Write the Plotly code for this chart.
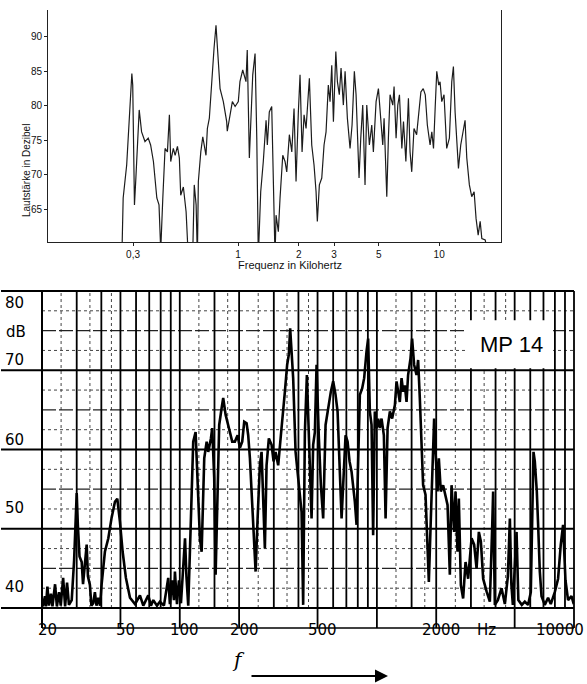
import math
import plotly.graph_objects as go

W, H = 587, 684

# ---------------- data: upper chart (kHz, dB) ----------------
top_freq_khz = [
    0.264, 0.268, 0.279, 0.287, 0.296, 0.299, 0.303, 0.305, 0.310, 0.316,
    0.322, 0.331, 0.344, 0.357, 0.367, 0.379, 0.394, 0.404, 0.412, 0.422,
    0.433, 0.445, 0.455, 0.462, 0.476, 0.486, 0.499, 0.510, 0.518, 0.534,
    0.551, 0.565, 0.594, 0.605, 0.618, 0.627, 0.634, 0.652, 0.667, 0.692,
    0.703, 0.719, 0.739, 0.759, 0.776, 0.789, 0.813, 0.844, 0.877, 0.883,
    0.912, 0.936, 0.966, 1.002, 1.021, 1.054, 1.094, 1.110, 1.137, 1.182,
    1.214, 1.238, 1.260, 1.295, 1.334, 1.377, 1.397, 1.429, 1.469, 1.497,
    1.526, 1.544, 1.585, 1.616, 1.667, 1.711, 1.745, 1.798, 1.849, 1.897,
    1.941, 1.993, 2.032, 2.080, 2.128, 2.177, 2.219, 2.261, 2.323, 2.385,
    2.441, 2.477, 2.535, 2.606, 2.675, 2.737, 2.809, 2.865, 2.922, 2.978,
    3.061, 3.117, 3.186, 3.250, 3.337, 3.404, 3.494, 3.603, 3.687, 3.785,
    3.860, 3.918, 3.994, 4.073, 4.166, 4.278, 4.363, 4.496, 4.620, 4.706,
    4.855, 4.986, 5.084, 5.240, 5.321, 5.487, 5.590, 5.697, 5.878, 5.966,
    6.105, 6.225, 6.344, 6.521, 6.645, 6.829, 7.031, 7.164, 7.303, 7.495,
    7.724, 7.926, 8.110, 8.330, 8.528, 8.732, 9.012, 9.191, 9.371, 9.549,
    9.727, 9.950, 10.10, 10.30, 10.57, 10.90, 11.24, 11.55, 11.77, 12.00,
    12.32, 12.47, 12.80, 13.19, 13.45, 13.72, 14.13, 14.52, 14.92, 15.26,
    15.63, 15.99, 16.30, 16.94, 17.58,
]
top_db = [
    58.0, 66.6, 71.4, 77.7, 84.7, 83.0, 73.3, 65.6, 69.5, 73.9,
    79.4, 76.2, 74.8, 75.3, 74.3, 71.9, 66.6, 65.6, 59.0, 66.6,
    73.8, 73.3, 78.7, 71.9, 73.8, 72.8, 74.1, 72.4, 67.0, 68.2,
    64.6, 58.0, 58.0, 68.5, 65.6, 58.0, 69.0, 73.3, 75.5, 72.8,
    76.7, 78.2, 84.0, 88.4, 91.7, 88.1, 82.5, 80.6, 77.7, 76.3,
    79.1, 80.6, 79.9, 80.6, 83.5, 85.2, 83.5, 88.1, 72.4, 84.5,
    87.6, 75.3, 58.0, 67.5, 71.9, 77.9, 74.3, 79.1, 79.9, 69.5,
    58.0, 64.1, 61.7, 66.6, 72.8, 71.9, 70.4, 75.8, 73.3, 79.6,
    69.0, 79.1, 84.5, 73.3, 78.7, 76.7, 79.9, 84.0, 74.3, 71.4,
    67.5, 63.2, 68.5, 69.5, 74.3, 76.2, 83.0, 80.6, 85.9, 77.7,
    87.9, 83.5, 81.6, 85.5, 80.1, 85.0, 78.2, 73.8, 77.2, 85.0,
    81.6, 77.2, 69.5, 75.3, 80.1, 68.5, 80.1, 74.3, 77.2, 73.3,
    80.6, 82.5, 78.7, 74.3, 78.2, 66.8, 75.3, 81.6, 80.1, 82.8,
    75.3, 80.1, 81.6, 73.8, 77.7, 71.9, 81.1, 73.3, 70.4, 76.7,
    75.8, 78.7, 82.0, 82.5, 81.6, 77.2, 74.3, 76.2, 73.8, 79.6,
    85.0, 83.0, 83.5, 80.6, 81.6, 73.8, 75.3, 83.5, 85.7, 79.1,
    73.3, 70.9, 74.3, 76.2, 77.9, 72.4, 68.5, 66.8, 67.5, 63.6,
    61.2, 63.2, 60.7, 60.5, 58.0,
]
top_xticks = [0.3, 1, 2, 3, 5, 10]
top_xticklabels = ["0,3", "1", "2", "3", "5", "10"]
top_yticks = [65, 70, 75, 80, 85, 90]

# ---------------- data: lower chart (Hz, dB) ----------------
bot_freq_hz = [
    20.2, 20.7, 20.95, 21.3, 21.7, 22.2, 22.6, 23.3, 23.8, 24.4,
    24.9, 25.6, 26.2, 26.8, 27.4, 28.3, 29.1, 29.6, 30.0, 30.4,
    31.0, 31.8, 32.3, 33.0, 33.7, 34.2, 35.0, 35.6, 36.4, 37.1,
    37.8, 38.6, 39.4, 40.1, 41.7, 43.4, 45.1, 46.9, 48.2, 49.7,
    51.3, 53.3, 55.9, 59.3, 62.8, 65.3, 69.2, 71.4, 73.4, 76.6,
    79.3, 83.1, 87.4, 89.1, 91.3, 93.4, 94.5, 96.8, 99.0, 101.4,
    103.8, 106.3, 108.1, 110.4, 113.9, 117.0, 120.3, 123.2, 126.5, 129.1,
    133.1, 136.9, 139.4, 143.9, 146.1, 149.5, 152.0, 155.6, 158.5, 163.0,
    166.1, 170.8, 174.8, 179.6, 184.5, 190.4, 196.5, 201.9, 207.4, 212.3,
    218.3, 222.4, 226.9, 231.4, 235.8, 242.5, 248.2, 254.9, 260.0, 264.9,
    270.2, 275.6, 283.1, 292.2, 299.2, 306.2, 315.7, 325.8, 334.6, 341.4,
    350.6, 357.6, 363.1, 369.1, 376.1, 386.8, 395.9, 406.7, 414.9, 422.7,
    431.2, 441.4, 448.1, 457.1, 466.2, 475.0, 484.6, 494.3, 503.6, 507.8,
    519.8, 534.0, 549.1, 566.1, 584.2, 600.1, 617.1, 631.7, 649.0, 662.0,
    674.4, 693.5, 709.9, 726.7, 743.9, 757.9, 773.1, 788.6, 803.5, 819.6,
    841.8, 861.8, 886.3, 903.0, 921.1, 939.6, 957.2, 976.4, 995.9, 1015,
    1035, 1056, 1085, 1107, 1133, 1164, 1195, 1234, 1258, 1282,
    1307, 1334, 1359, 1386, 1414, 1440, 1481, 1509, 1545, 1589,
    1619, 1651, 1684, 1716, 1765, 1807, 1835, 1878, 1907, 1952,
    1984, 2031, 2062, 2110, 2168, 2256, 2283, 2345, 2392, 2466,
    2506, 2565, 2605, 2667, 2739, 2817, 2904, 3022, 3115, 3204,
    3291, 3369, 3460, 3601, 3742, 3844, 3889, 3935, 3967, 4108,
    4290, 4459, 4618, 4728, 4811, 4896, 5112, 5220, 5435, 5629,
    5850, 6038, 6130, 6231, 6327, 6476, 6576, 6708, 6843, 7108,
    7387, 7624, 7989, 8303, 8568, 8802, 9052, 9331, 9709, 9975,
]
bot_db = [
    40.2, 41.5, 40.2, 42.7, 40.3, 41.8, 40.2, 43.0, 40.2, 42.0,
    40.3, 43.8, 40.2, 43.2, 40.4, 41.0, 46.0, 51.0, 54.5, 50.5,
    46.5, 45.8, 43.0, 45.5, 48.0, 44.0, 42.9, 40.3, 40.6, 42.0,
    40.3, 41.3, 40.3, 42.9, 47.1, 48.8, 51.4, 53.4, 53.8, 50.9,
    47.1, 43.8, 41.3, 40.5, 41.6, 40.3, 41.6, 40.3, 41.0, 40.3,
    40.8, 40.3, 43.8, 40.5, 43.5, 41.0, 44.6, 40.5, 43.5, 40.6,
    44.5, 48.8, 44.0, 40.3, 51.3, 61.0, 62.2, 55.5, 48.8, 47.1,
    58.9, 61.0, 59.7, 61.4, 62.7, 56.4, 44.2, 54.7, 63.1, 65.2,
    66.5, 64.4, 63.5, 62.2, 61.0, 61.0, 61.8, 60.2, 61.0, 63.5,
    63.3, 61.8, 58.9, 54.7, 51.3, 44.6, 51.3, 58.0, 59.7, 53.8,
    47.5, 58.0, 61.4, 60.6, 58.5, 59.7, 58.0, 61.8, 65.6, 67.3,
    70.7, 72.0, 75.3, 72.4, 69.0, 59.7, 57.2, 54.7, 52.1, 40.4,
    62.2, 69.4, 63.9, 58.9, 51.3, 60.6, 62.2, 70.7, 62.7, 61.4,
    55.5, 51.3, 63.1, 65.2, 67.3, 68.6, 66.9, 64.8, 55.5, 51.3,
    55.5, 61.8, 61.0, 58.5, 57.2, 55.5, 53.4, 50.5, 58.5, 66.9,
    67.7, 69.0, 72.4, 74.0, 64.8, 63.1, 49.2, 64.8, 62.7, 63.9,
    62.7, 63.9, 61.8, 51.3, 62.7, 64.8, 63.9, 65.6, 68.6, 67.3,
    66.0, 69.0, 67.3, 68.1, 66.0, 69.4, 71.5, 74.0, 70.7, 69.4,
    71.3, 66.5, 60.6, 55.5, 54.3, 48.0, 43.3, 51.3, 55.5, 63.9,
    59.7, 54.7, 58.9, 54.7, 55.5, 53.4, 53.0, 44.2, 55.5, 49.6,
    54.7, 47.1, 53.8, 42.9, 41.2, 45.8, 43.7, 48.8, 48.0, 45.0,
    49.6, 48.4, 43.7, 42.1, 40.8, 50.1, 54.7, 46.0, 40.4, 41.0,
    42.5, 40.5, 44.0, 51.3, 43.0, 40.4, 49.6, 41.0, 40.4, 40.8,
    40.4, 42.0, 51.3, 59.7, 58.5, 54.7, 50.5, 44.6, 41.5, 40.4,
    41.3, 40.5, 42.0, 43.7, 48.0, 50.5, 43.5, 41.0, 41.5, 40.5,
]
bot_label_vals = [20, 50, 100, 200, 500, 2000]
bot_label_text = ["20", "50", "100", "200", "500", "2000"]
bot_last_label = "10000"
bot_label_tickmarks = [50, 100, 200, 500, 1000, 2000, 5000]
bot_y_levels = [80, 70, 60, 50, 40]
grid_major_v = [30, 40, 50, 60, 70, 80, 90, 100, 150, 200, 300, 400, 500, 600, 700,
                800, 900, 1000, 1500, 2000, 3000, 4000, 5000, 6000, 7000, 8000, 9000]
grid_minor_v = [25, 35, 45, 125, 175, 250, 350, 450, 1250, 1750, 2500, 3500, 4500]
grid_major_h = [50, 60, 70]
grid_mid_h = [45, 55, 65, 75]
grid_dot_h = [42.5, 47.5, 52.5, 57.5, 62.5, 67.5, 72.5, 77.5]

# ---------------- geometry ----------------
B_LEFT, B_RIGHT = 42, 574          # px of lower plot area
B_TOP, B_BOT = 291, 628            # px
B_YMIN, B_YMAX = 37.48, 80.0


def px(x):
    return x / W


def py(y):
    return 1 - y / H


def db_to_paper(v):
    frac = (v - B_YMIN) / (B_YMAX - B_YMIN)
    return py(B_BOT) + frac * (py(B_TOP) - py(B_BOT))


fig = go.Figure()
fig.add_trace(go.Scatter(x=top_freq_khz, y=top_db, xaxis="x", yaxis="y", mode="lines",
                         line=dict(color="#1c1c1c", width=1.2), showlegend=False,
                         hoverinfo="skip"))
fig.add_trace(go.Scatter(x=bot_freq_hz, y=bot_db, xaxis="x2", yaxis="y2", mode="lines",
                         line=dict(color="black", width=2.6), showlegend=False,
                         hoverinfo="skip"))

shapes = []
black = "black"
# dotted minor grid
for f in grid_minor_v:
    shapes.append(dict(type="line", xref="x2", yref="y2", x0=f, x1=f, y0=40, y1=80,
                       line=dict(color="#444", width=1, dash="dot"), layer="below"))
for v in grid_dot_h:
    shapes.append(dict(type="line", xref="x2", yref="y2", x0=20, x1=10000, y0=v, y1=v,
                       line=dict(color="#444", width=1, dash="dot"), layer="below"))
for v in grid_mid_h:
    shapes.append(dict(type="line", xref="x2", yref="y2", x0=20, x1=10000, y0=v, y1=v,
                       line=dict(color="#222", width=1.4, dash="14px,3px"), layer="below"))
for f in grid_major_v:
    shapes.append(dict(type="line", xref="x2", yref="y2", x0=f, x1=f, y0=40, y1=80,
                       line=dict(color=black, width=1.8), layer="below"))
for v in grid_major_h + [40, 80]:
    yy = db_to_paper(v)
    shapes.append(dict(type="line", xref="paper", yref="paper", x0=px(1), x1=px(B_RIGHT),
                       y0=yy, y1=yy, line=dict(color=black, width=2)))
# frame of the lower chart
shapes.append(dict(type="line", xref="paper", yref="paper", x0=px(B_LEFT), x1=px(B_LEFT),
                   y0=py(B_BOT), y1=py(B_TOP), line=dict(color=black, width=2)))
shapes.append(dict(type="line", xref="paper", yref="paper", x0=px(B_RIGHT), x1=px(B_RIGHT),
                   y0=py(B_BOT), y1=py(B_TOP), line=dict(color=black, width=1.8)))
shapes.append(dict(type="line", xref="paper", yref="paper", x0=px(B_LEFT), x1=px(B_RIGHT),
                   y0=py(B_BOT), y1=py(B_BOT), line=dict(color=black, width=1.6)))
for f in bot_label_tickmarks:
    shapes.append(dict(type="line", xref="x2", yref="y2", x0=f, x1=f, y0=B_YMIN, y1=40,
                       line=dict(color=black, width=1.8)))
# white label box
shapes.append(dict(type="rect", xref="x2", yref="y2", x0=2800, x1=7830, y0=70.25, y1=76.3,
                   fillcolor="white", line=dict(width=0)))

annotations = []
# upper chart titles
annotations.append(dict(text="Lautstärke in Dezibel", xref="paper", yref="paper",
                        x=px(19), y=py(122), textangle=-90, showarrow=False,
                        font=dict(family="Liberation Sans, Arial", size=10, color="#111")))
annotations.append(dict(text="Frequenz in Kilohertz", xref="paper", yref="paper",
                        x=px(290), y=py(265), showarrow=False,
                        font=dict(family="Liberation Sans, Arial", size=11, color="#111")))
# lower chart y labels
lab_font = dict(family="DejaVu Sans", size=15, color="black")
annotations.append(dict(text="80", xref="paper", yref="paper", x=px(3), y=py(303),
                        xanchor="left", showarrow=False, font=lab_font))
annotations.append(dict(text="dB", xref="paper", yref="paper", x=px(4), y=py(332),
                        xanchor="left", showarrow=False, font=lab_font))
for v in bot_y_levels[1:]:
    annotations.append(dict(text=str(v), xref="paper", yref="paper", x=px(3),
                            y=db_to_paper(v), yshift=10, xanchor="left",
                            showarrow=False, font=lab_font))
# lower chart x labels
for val, txt in zip(bot_label_vals, bot_label_text):
    annotations.append(dict(text=txt, xref="x2", yref="paper", x=math.log10(val),
                            y=py(641), xshift=5, showarrow=False, font=lab_font))
annotations.append(dict(text=bot_last_label, xref="paper", yref="paper", x=px(586),
                        y=py(641), xanchor="right", showarrow=False, font=lab_font))
annotations.append(dict(text="Hz", xref="paper", yref="paper", x=px(498), y=py(641),
                        showarrow=False, font=lab_font))
annotations.append(dict(text="MP 14", xref="x2", yref="y2", x=math.log10(4830), y=73.2,
                        showarrow=False,
                        font=dict(family="Liberation Sans, Arial", size=22, color="black")))
# f arrow
annotations.append(dict(text="<i>f</i>", xref="paper", yref="paper", x=px(238), y=py(674),
                        showarrow=False,
                        font=dict(family="DejaVu Serif", size=20, color="black")))
annotations.append(dict(text="", xref="paper", yref="paper", x=px(388), y=py(676),
                        ax=-138, ay=0, showarrow=True, arrowhead=2, arrowsize=1.3,
                        arrowwidth=2, arrowcolor="black"))

tick_font = dict(family="Liberation Sans, Arial", size=10, color="#111")
fig.update_layout(
    width=W, height=H, margin=dict(l=0, r=0, t=0, b=0),
    paper_bgcolor="white", plot_bgcolor="white", showlegend=False,
    xaxis=dict(type="log", range=[math.log10(0.1133), math.log10(20.3)],
               domain=[px(48), px(501)], anchor="y", showline=True, linecolor="#222",
               linewidth=1, ticks="outside", ticklen=3, tickcolor="#222",
               tickvals=top_xticks, ticktext=top_xticklabels, tickfont=tick_font,
               showgrid=False, zeroline=False),
    yaxis=dict(range=[60.16, 93.92], domain=[py(242.3), py(10)], anchor="x",
               showline=True, mirror=True, linecolor="#222", linewidth=1,
               ticks="outside", ticklen=3, tickcolor="#222", tickvals=top_yticks,
               tickfont=tick_font, showgrid=False, zeroline=False),
    xaxis2=dict(type="log", range=[math.log10(20), 4], domain=[px(B_LEFT), px(B_RIGHT)],
                anchor="y2", showticklabels=False, showgrid=False, zeroline=False,
                showline=False, ticks=""),
    yaxis2=dict(range=[B_YMIN, B_YMAX], domain=[py(B_BOT), py(B_TOP)], anchor="x2",
                showticklabels=False, showgrid=False, zeroline=False, showline=False,
                ticks=""),
    shapes=shapes, annotations=annotations,
)

fig.write_html("out.html", config={"displayModeBar": False},
               post_script="document.body.style.margin='0';document.body.style.overflow='hidden';")
